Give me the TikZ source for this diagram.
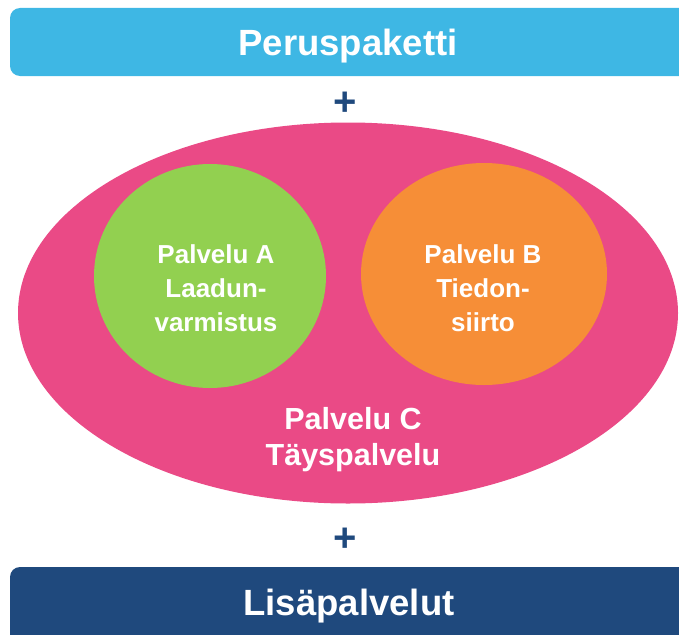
\documentclass[tikz,border=0pt]{standalone}
\usepackage{fontspec}
\setmainfont{Liberation Sans}
\usetikzlibrary{shapes.geometric}

\begin{document}
\begin{tikzpicture}[x=1pt,y=1pt,yscale=-1,xscale=1,
  bartext/.style={text=white,font=\bfseries\fontsize{36.5}{40}\selectfont},
  plussign/.style={text={rgb,255:red,31;green,73;blue,125},font=\bfseries\fontsize{40}{40}\selectfont},
  blob/.style={ellipse,draw=none,inner sep=0pt},
  blobtext/.style={text=white,align=center,font=\bfseries\fontsize{26}{34}\selectfont}]
\useasboundingbox (0,0) rectangle (679,634);

%Shape: Rounded Rect (top bar)
\fill [color={rgb, 255:red, 62; green, 183; blue, 228 }, rounded corners=10pt] (10,8) rectangle (690,76);
\node [bartext] (peru) at (348,46) {Peruspaketti};

%Text: plus
\node [plussign] (plusTop) at (345,104) {+};

%Shape: Ellipse (Palvelu C)
\node [blob, fill={rgb, 255:red, 234; green, 74; blue, 134 }, minimum width=660pt, minimum height=381pt] (palveluC) at (348,313) {};
%Shape: Ellipse (Palvelu A)
\node [blob, fill={rgb, 255:red, 146; green, 208; blue, 80 }, minimum width=232pt, minimum height=224pt] (palveluA) at (210,276) {};
%Shape: Ellipse (Palvelu B)
\node [blob, fill={rgb, 255:red, 246; green, 142; blue, 55 }, minimum width=246pt, minimum height=222pt] (palveluB) at (484,274) {};

\node [blobtext] (textA) at (216,288) {Palvelu A\\Laadun-\\varmistus};
\node [blobtext] (textB) at (483,288) {Palvelu B\\Tiedon-\\siirto};
\node [blobtext, font=\bfseries\fontsize{30.5}{36}\selectfont] (textC) at (353,440) {Palvelu C\\Täyspalvelu};

%Text: plus
\node [plussign] (plusBottom) at (345,540) {+};

%Shape: Rounded Rect (bottom bar)
\fill [color={rgb, 255:red, 31; green, 73; blue, 125 }, rounded corners=10pt] (10,567) rectangle (690,650);
\node [bartext] (lisa) at (349,606) {Lisäpalvelut};
\end{tikzpicture}
\end{document}
